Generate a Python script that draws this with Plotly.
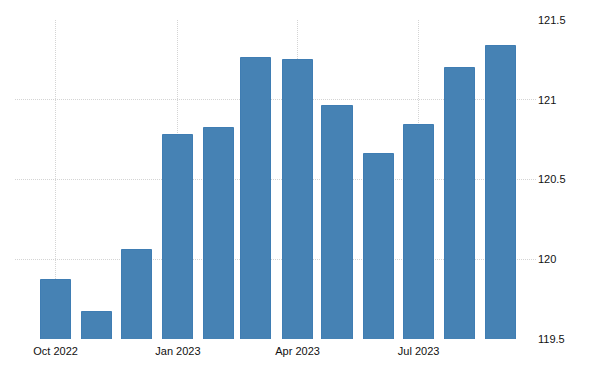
import plotly.graph_objects as go

months = ["2022-10-01", "2022-11-01", "2022-12-01", "2023-01-01", "2023-02-01", "2023-03-01",
          "2023-04-01", "2023-05-01", "2023-06-01", "2023-07-01", "2023-08-01", "2023-09-01"]
values = [119.87, 119.67, 120.06, 120.78, 120.82, 121.26, 121.25, 120.96, 120.66, 120.84, 121.20, 121.34]

x_tick_vals = ["2022-10-01", "2023-01-01", "2023-04-01", "2023-07-01"]
x_tick_text = ["Oct 2022", "Jan 2023", "Apr 2023", "Jul 2023"]
y_tick_vals = [119.5, 120, 120.5, 121, 121.5]
y_tick_text = ["119.5", "120", "120.5", "121", "121.5"]

fig = go.Figure(go.Bar(
    x=months, y=values,
    width=[22.6 * 86400000] * len(months),
    marker=dict(color="#4682B4", line=dict(color="#3f7db3", width=1)),
))

fig.update_layout(
    width=600, height=375,
    margin=dict(l=7, r=71, t=12, b=44),
    paper_bgcolor="white", plot_bgcolor="white",
    showlegend=False,
    font=dict(family="Liberation Sans, Arial, sans-serif", size=11, color="#111"),
    bargap=0,
)
fig.update_xaxes(
    type="date",
    range=["2022-08-31 12:00", "2023-09-28"],
    tickvals=x_tick_vals, ticktext=x_tick_text,
    showgrid=True, gridcolor="#d4d4d4", griddash="1px,1px", gridwidth=1,
    showline=False, zeroline=False, ticks="",
    ticklabelstandoff=4,
    tickfont=dict(size=11, color="#111"),
)
fig.update_yaxes(
    side="right",
    range=[119.5, 121.5],
    tickvals=y_tick_vals, ticktext=y_tick_text,
    showgrid=True, gridcolor="#d4d4d4", griddash="1px,1px", gridwidth=1,
    showline=False, zeroline=False, ticks="",
    tickfont=dict(size=11, color="#111"),
)

fig.write_html("out.html")
